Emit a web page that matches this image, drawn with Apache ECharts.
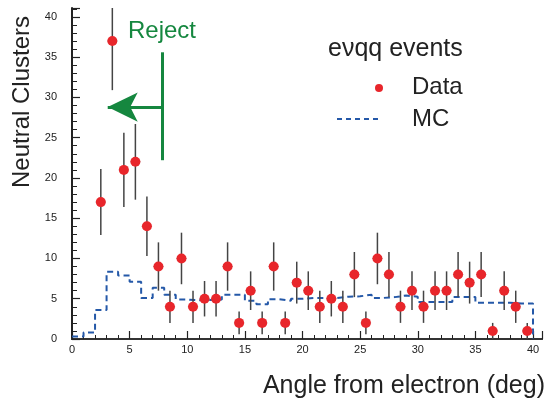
<!DOCTYPE html>
<html>
<head>
<meta charset="utf-8">
<script src="https://cdn.jsdelivr.net/npm/echarts@6/dist/echarts.min.js"></script>
<style>
html,body{margin:0;padding:0;background:#fff;}
#chart{width:545px;height:403px;}
</style>
</head>
<body>
<div id="chart"></div>
<script>
// Data points (bin centres, deg), counts and error bar half-lengths
const angles = [2.5,3.5,4.5,5.5,6.5,7.5,8.5,9.5,10.5,11.5,12.5,13.5,14.5,15.5,16.5,17.5,18.5,19.5,20.5,21.5,22.5,23.5,24.5,25.5,26.5,27.5,28.5,29.5,30.5,31.5,32.5,33.5,34.5,35.5,36.5,37.5,38.5,39.5];
const counts = [17,37,21,22,14,9,4,10,4,5,5,9,2,6,2,9,2,7,6,4,5,4,8,2,10,8,4,6,4,6,6,8,7,8,1,6,4,1];
const errors = [4.1,6.1,4.6,4.7,3.7,3.0,2.0,3.2,2.0,2.2,2.2,3.0,1.4,2.4,1.4,3.0,1.4,2.6,2.4,2.0,2.2,2.0,2.8,1.4,3.2,2.8,2.0,2.4,2.0,2.4,2.4,2.8,2.6,2.8,1.0,2.4,2.0,1.0];
// MC histogram: lower bin edges and contents
const mcEdges = [0,1,2,3,4,5,6,7,8,9,10,11,12,13,14,15,16,17,18,19,20,21,22,23,24,25,26,27,28,29,30,31,32,33,34,35,36,37,38,39];
const mcValues = [0.3,0.8,3.6,8.35,7.9,7.1,5.1,6.35,5.5,4.9,4.8,4.85,4.9,5.5,5.5,4.75,4.3,4.95,4.75,5.0,5.1,5.1,5.1,5.25,5.3,5.5,5.1,5.2,5.4,5.25,4.6,4.6,4.6,5.2,5.2,4.5,4.5,4.5,4.4,4.4];
const mcUpperEdge = 40;
// Reject cut annotation (deg / counts)
const rejectCut = 7.85;
const rejectArrowTip = 3.1;
const rejectArrowY = 28.8;
const rejectBar = [22.2, 35.6];

const FONT = 'Liberation Sans, Arial, Helvetica, sans-serif';
const RED = '#e8262b';
const BLUE = '#2458a8';
const GREEN = '#15873f';

const mcData = mcEdges.map((e, i) => [e, mcValues[i]]);
mcData.push([mcUpperEdge, mcValues[mcValues.length - 1]]);
mcData.push([mcUpperEdge, 0]);

const pts = angles.map((a, i) => [a, counts[i]]);
const errData = angles.map((a, i) => [a, counts[i], errors[i]]);

const chart = echarts.init(document.getElementById('chart'), null, {renderer: 'canvas'});

const tickFmt = v => (Math.abs(v % 5) < 1e-9 ? String(v) : '');

chart.setOption({
  animation: false,
  backgroundColor: '#fff',
  grid: {left: 72, top: 8, right: 0, bottom: 64, containLabel: false},
  xAxis: [{
    type: 'value', min: 0, max: 40.78, interval: 5,
    axisLine: {show: true, onZero: false, lineStyle: {color: '#222', width: 2}},
    axisTick: {show: true, inside: true, length: 8, lineStyle: {color: '#222', width: 1.2}},
    minorTick: {show: true, splitNumber: 5, length: 4, lineStyle: {color: '#222', width: 1}},
    splitLine: {show: false},
    axisLabel: {formatter: tickFmt, fontFamily: FONT, fontSize: 11, color: '#222', margin: 5}
  }, {
    type: 'value', position: 'top', min: 0, max: 40.78,
    axisLine: {show: true, lineStyle: {color: '#333', width: 2}},
    axisTick: {show: false}, axisLabel: {show: false}, splitLine: {show: false}
  }],
  yAxis: {
    type: 'value', min: 0, max: 41.1, interval: 5,
    axisLine: {show: true, onZero: false, lineStyle: {color: '#222', width: 2}},
    axisTick: {show: true, inside: true, length: 8, lineStyle: {color: '#222', width: 1.2}},
    minorTick: {show: true, splitNumber: 5, length: 5, lineStyle: {color: '#222', width: 1}},
    splitLine: {show: false},
    axisLabel: {formatter: tickFmt, fontFamily: FONT, fontSize: 11, color: '#222', margin: 15}
  },
  graphic: [
    {type: 'text', x: 22, y: 102, rotation: Math.PI / 2,
      style: {text: 'Neutral Clusters', font: '24px ' + FONT, fill: '#222', align: 'center', verticalAlign: 'middle'}},
    {type: 'text', x: 545, y: 386,
      style: {text: 'Angle from electron (deg)', font: '25px ' + FONT, fill: '#222', align: 'right', verticalAlign: 'middle'}},
    {type: 'text', x: 128, y: 31,
      style: {text: 'Reject', font: '24px ' + FONT, fill: GREEN, align: 'left', verticalAlign: 'middle'}},
    {type: 'text', x: 328, y: 49,
      style: {text: 'e\u03BDqq events', font: '25px ' + FONT, fill: '#222', align: 'left', verticalAlign: 'middle'}},
    {type: 'circle', shape: {cx: 379, cy: 88, r: 4}, style: {fill: RED}},
    {type: 'text', x: 412, y: 87,
      style: {text: 'Data', font: '24px ' + FONT, fill: '#222', align: 'left', verticalAlign: 'middle'}},
    {type: 'line', shape: {x1: 337, y1: 119, x2: 382, y2: 119},
      style: {stroke: BLUE, lineWidth: 2, lineDash: [5, 4]}},
    {type: 'text', x: 412, y: 119,
      style: {text: 'MC', font: '24px ' + FONT, fill: '#222', align: 'left', verticalAlign: 'middle'}}
  ],
  series: [
    {
      type: 'line', name: 'MC', data: mcData, step: 'end', showSymbol: false, symbol: 'none',
      lineStyle: {color: BLUE, width: 2, type: [6, 4]}, z: 2, silent: true,
      markLine: {
        silent: true, animation: false,
        symbol: ['none', 'arrow'], symbolSize: [22, 30],
        lineStyle: {color: GREEN, width: 3, type: 'solid'},
        label: {show: false},
        data: [
          [{coord: [rejectCut, rejectArrowY]}, {coord: [rejectArrowTip, rejectArrowY]}],
          [{coord: [rejectCut, rejectBar[0]], symbol: 'none'}, {coord: [rejectCut, rejectBar[1]], symbol: 'none'}]
        ]
      }
    },
    {
      type: 'custom', name: 'err', data: errData, z: 3, silent: true,
      encode: {x: 0, y: 1},
      renderItem: function (params, api) {
        const x = api.value(0), y = api.value(1), e = api.value(2);
        const top = api.coord([x, y + e]);
        const bot = api.coord([x, y - e]);
        const l = api.coord([x - 0.45, y]);
        const r = api.coord([x + 0.45, y]);
        const cs = params.coordSys;
        const topY = Math.max(top[1], cs.y);
        return {type: 'group', children: [
          {type: 'line', shape: {x1: l[0], y1: l[1], x2: r[0], y2: r[1]}, style: {stroke: '#999', lineWidth: 1}},
          {type: 'line', shape: {x1: top[0], y1: topY, x2: bot[0], y2: bot[1]}, style: {stroke: '#444', lineWidth: 1.5}}
        ]};
      }
    },
    {
      type: 'scatter', name: 'Data', data: pts, symbol: 'circle', symbolSize: 10,
      itemStyle: {color: RED, opacity: 1}, z: 4, silent: true
    }
  ]
});
</script>
</body>
</html>
